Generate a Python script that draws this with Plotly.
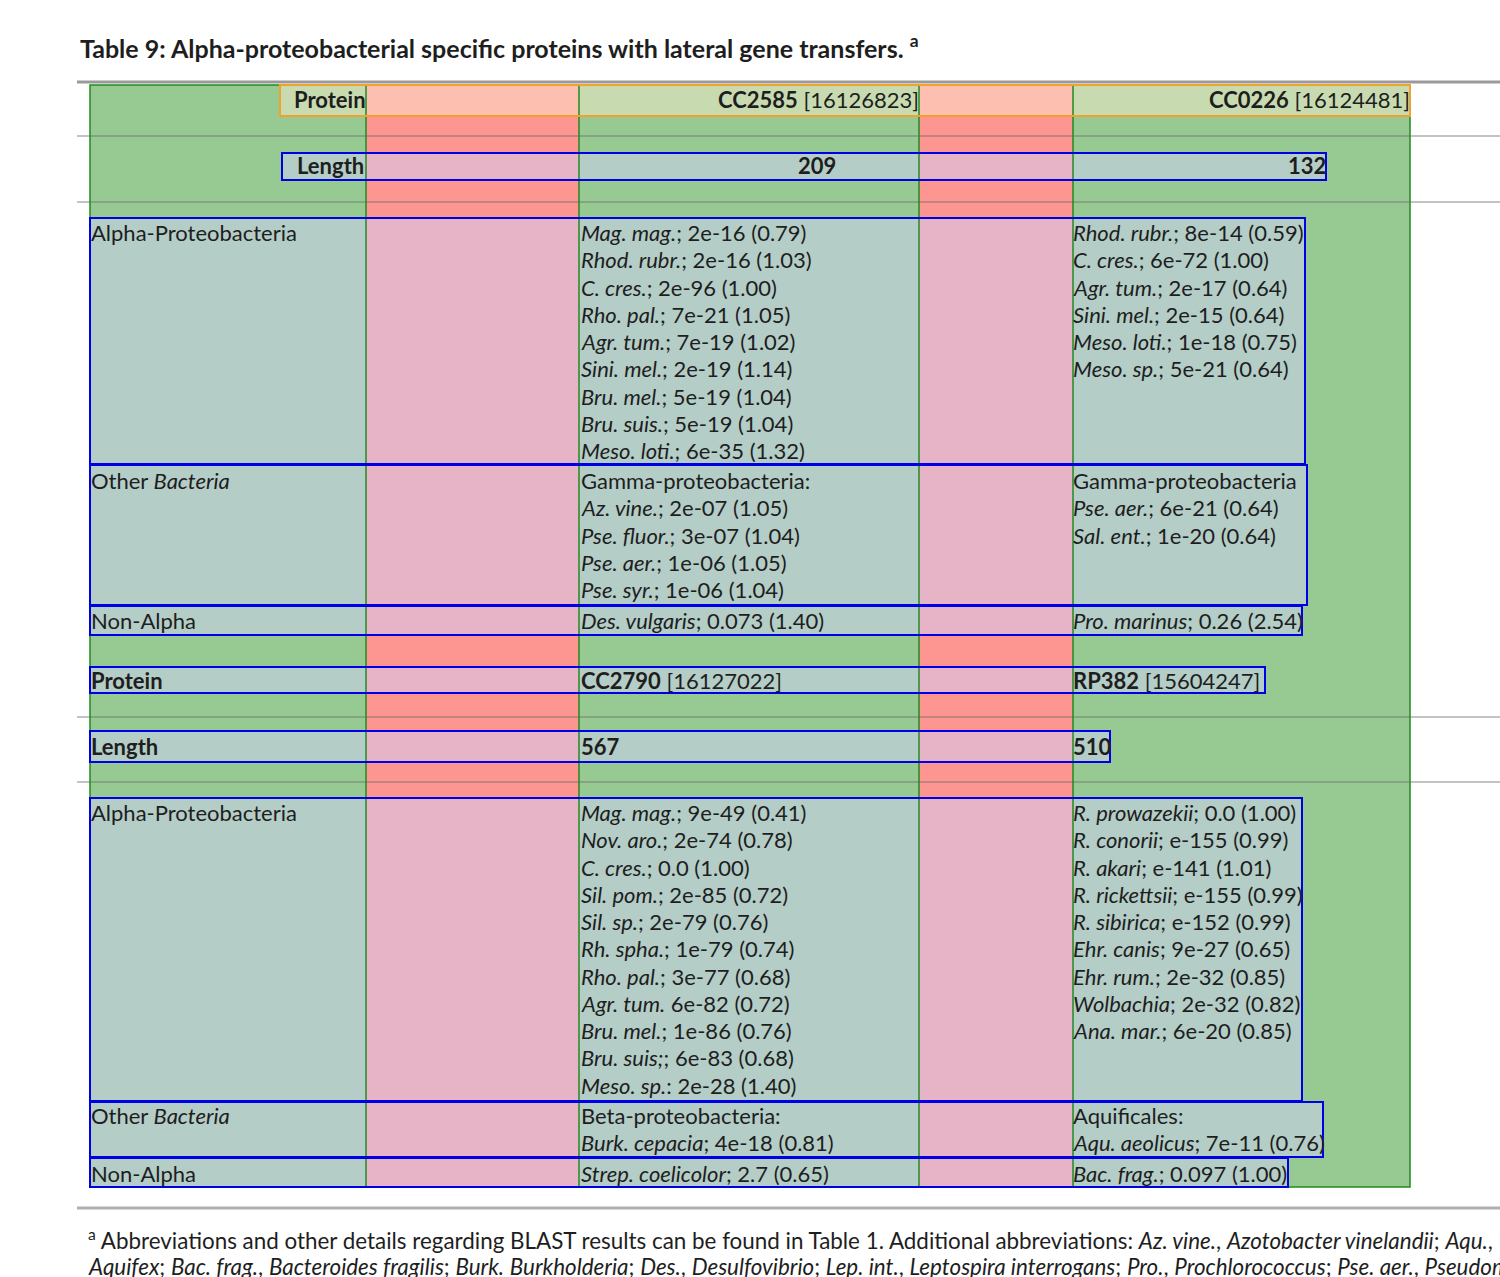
import plotly.graph_objects as go

# ---- table content ----
title = "Table 9: Alpha-proteobacterial specific proteins with lateral gene transfers. <sup>a</sup>"
proteins = ["CC2585", "CC0226", "CC2790", "RP382"]
gi_ids = ["16126823", "16124481", "16127022", "15604247"]
lengths = ["209", "132", "567", "510"]
row_labels = ["Alpha-Proteobacteria", "Other <i>Bacteria</i>", "Non-Alpha"]

alpha_hits = [
    ["<i>Mag. mag.</i>; 2e-16 (0.79)", "<i>Rhod. rubr.</i>; 2e-16 (1.03)", "<i>C. cres.</i>; 2e-96 (1.00)",
     "<i>Rho. pal.</i>; 7e-21 (1.05)", "<i>Agr. tum.</i>; 7e-19 (1.02)", "<i>Sini. mel.</i>; 2e-19 (1.14)",
     "<i>Bru. mel.</i>; 5e-19 (1.04)", "<i>Bru. suis.</i>; 5e-19 (1.04)", "<i>Meso. loti.</i>; 6e-35 (1.32)"],
    ["<i>Rhod. rubr.</i>; 8e-14 (0.59)", "<i>C. cres.</i>; 6e-72 (1.00)", "<i>Agr. tum.</i>; 2e-17 (0.64)",
     "<i>Sini. mel.</i>; 2e-15 (0.64)", "<i>Meso. loti.</i>; 1e-18 (0.75)", "<i>Meso. sp.</i>; 5e-21 (0.64)"],
    ["<i>Mag. mag.</i>; 9e-49 (0.41)", "<i>Nov. aro.</i>; 2e-74 (0.78)", "<i>C. cres.</i>; 0.0 (1.00)",
     "<i>Sil. pom.</i>; 2e-85 (0.72)", "<i>Sil. sp.</i>; 2e-79 (0.76)", "<i>Rh. spha.</i>; 1e-79 (0.74)",
     "<i>Rho. pal.</i>; 3e-77 (0.68)", "<i>Agr. tum.</i> 6e-82 (0.72)", "<i>Bru. mel.</i>; 1e-86 (0.76)",
     "<i>Bru. suis;</i>; 6e-83 (0.68)", "<i>Meso. sp.</i>: 2e-28 (1.40)"],
    ["<i>R. prowazekii</i>; 0.0 (1.00)", "<i>R. conorii</i>; e-155 (0.99)", "<i>R. akari</i>; e-141 (1.01)",
     "<i>R. rickettsii</i>; e-155 (0.99)", "<i>R. sibirica</i>; e-152 (0.99)", "<i>Ehr. canis</i>; 9e-27 (0.65)",
     "<i>Ehr. rum.</i>; 2e-32 (0.85)", "<i>Wolbachia</i>; 2e-32 (0.82)", "<i>Ana. mar.</i>; 6e-20 (0.85)"],
]
other_hits = [
    ["Gamma-proteobacteria:", "<i>Az. vine.</i>; 2e-07 (1.05)", "<i>Pse. fluor.</i>; 3e-07 (1.04)",
     "<i>Pse. aer.</i>; 1e-06 (1.05)", "<i>Pse. syr.</i>; 1e-06 (1.04)"],
    ["Gamma-proteobacteria", "<i>Pse. aer.</i>; 6e-21 (0.64)", "<i>Sal. ent.</i>; 1e-20 (0.64)"],
    ["Beta-proteobacteria:", "<i>Burk. cepacia</i>; 4e-18 (0.81)"],
    ["Aquificales:", "<i>Aqu. aeolicus</i>; 7e-11 (0.76)"],
]
nonalpha_hits = [
    "<i>Des. vulgaris</i>; 0.073 (1.40)", "<i>Pro. marinus</i>; 0.26 (2.54)",
    "<i>Strep. coelicolor</i>; 2.7 (0.65)", "<i>Bac. frag.</i>; 0.097 (1.00)",
]
footnote = [
    "<sup>a</sup> Abbreviations and other details regarding BLAST results can be found in Table 1. "
    "Additional abbreviations: <i>Az. vine.</i>, <i>Azotobacter vinelandii</i>; <i>Aqu.</i>,",
    "<i>Aquifex</i>; <i>Bac. frag.</i>, <i>Bacteroides fragilis</i>; <i>Burk.</i> <i>Burkholderia</i>; "
    "<i>Des.</i>, <i>Desulfovibrio</i>; <i>Lep. int.</i>, <i>Leptospira interrogans</i>; <i>Pro.</i>, "
    "<i>Prochlorococcus</i>; <i>Pse. aer.</i>, <i>Pseudomonas aeruginosa</i>;",
]

# ---- page geometry (pixels) ----
W, H = 1500, 1277
LEFT, RIGHT, TOP, BOTTOM = 90, 1410, 85, 1187
col_lines = [366, 579, 919, 1073]
red_cols = [(366, 579), (919, 1073)]
text_x = [89, 579, 1071]
DY = -1.5
LINE = 27.25
FONT = "Lato, 'Open Sans', sans-serif"
SIZE = 22
INK = "#1e1e1e"
GREEN = "#97c992"
RED = "#fd9590"
LINE_GREEN = "#218a21"
BLUE = "#0000e6"
BLUE_FILL = "rgba(210,210,252,0.5)"
ORANGE_FILL = "rgba(253,238,208,0.48)"

# blocks: (first line y, box top, box bottom, box right)
blocks = [
    dict(alpha=(234, 218, 464, 1305), other=(482, 465, 605, 1307), non=(622, 606, 635, 1302),
         prot=(682, 667, 693, 1265), length=(748, 731, 762, 1110)),
    dict(alpha=(814, 798, 1101, 1302), other=(1117, 1102, 1157, 1323), non=(1175, 1158, 1187, 1288)),
]

fig = go.Figure()
fills = []
outlines = []
annos = []


def rect(x0, y0, x1, y1, fill, line_color=None, width=0):
    fills.append(dict(type="rect", xref="x", yref="y", x0=x0, x1=x1, y0=y0, y1=y1,
                      fillcolor=fill, line=dict(width=0)))
    if line_color:
        outlines.append(dict(type="rect", xref="x", yref="y", x0=x0, x1=x1, y0=y0, y1=y1,
                             line=dict(color=line_color, width=width)))


def hline(y, x0, x1, color, width):
    fills.append(dict(type="line", xref="x", yref="y", x0=x0, x1=x1, y0=y, y1=y,
                      line=dict(color=color, width=width)))


def text(x, y, s, anchor="left", size=SIZE, bold=False):
    if bold:
        s = "<b>" + s + "</b>"
    if anchor == "right":
        x += 2
    annos.append(dict(x=x, y=y + DY, xref="x", yref="y", text=s, showarrow=False,
                      xanchor=anchor, yanchor="middle", align=anchor,
                      font=dict(family=FONT, size=size, color=INK)))


# backgrounds
rect(LEFT, TOP, RIGHT, BOTTOM, GREEN)
for a, b in red_cols:
    rect(a, TOP, b, BOTTOM, RED)

# horizontal rules of the page
hline(82, 77, W, "#9a9a9a", 3)
for y in [136, 202, 717, 782]:
    hline(y, 77, W, "rgba(110,110,110,0.55)", 1.5)
hline(1208, 77, W, "#b0b0b0", 3)

# header row (orange box) and first length row
rect(280, TOP, RIGHT, 116, ORANGE_FILL, "#f2a22a", 2)
rect(282, 153, 1326, 180, BLUE_FILL, BLUE, 2)
text(366, 101, "Protein", "right", bold=True)
text(919, 101, "<b>%s</b> [%s]" % (proteins[0], gi_ids[0]), "right")
text(1410, 101, "<b>%s</b> [%s]" % (proteins[1], gi_ids[1]), "right")
text(364, 167, "Length", "right", bold=True)
text(836, 167, lengths[0], "right", bold=True)
text(1326, 167, lengths[1], "right", bold=True)

for bi, blk in enumerate(blocks):
    ia, ib = 2 * bi, 2 * bi + 1
    if "prot" in blk:
        ty, y0, y1, xr = blk["prot"]
        rect(LEFT, y0, xr, y1, BLUE_FILL, BLUE, 2)
        text(text_x[0], ty, "Protein", bold=True)
        text(text_x[1], ty, "<b>%s</b> [%s]" % (proteins[ia + 2], gi_ids[ia + 2]))
        text(text_x[2], ty, "<b>%s</b> [%s]" % (proteins[ib + 2], gi_ids[ib + 2]))
        ty, y0, y1, xr = blk["length"]
        rect(LEFT, y0, xr, y1, BLUE_FILL, BLUE, 2)
        text(text_x[0], ty, "Length", bold=True)
        text(text_x[1], ty, lengths[ia + 2], bold=True)
        text(text_x[2], ty, lengths[ib + 2], bold=True)
    for key, label, cells in [("alpha", row_labels[0], alpha_hits), ("other", row_labels[1], other_hits)]:
        ty, y0, y1, xr = blk[key]
        rect(LEFT, y0, xr, y1, BLUE_FILL, BLUE, 2)
        text(text_x[0], ty, label)
        for col, idx in [(1, ia), (2, ib)]:
            for k, line in enumerate(cells[idx]):
                text(text_x[col], ty + k * LINE, line)
    ty, y0, y1, xr = blk["non"]
    rect(LEFT, y0, xr, y1, BLUE_FILL, BLUE, 2)
    text(text_x[0], ty, row_labels[2])
    text(text_x[1], ty, nonalpha_hits[ia])
    text(text_x[2], ty, nonalpha_hits[ib])

# green cell lines drawn over the fills, under the box outlines
green_lines = [dict(type="rect", xref="x", yref="y", x0=LEFT, x1=RIGHT, y0=TOP, y1=BOTTOM,
                    line=dict(color=LINE_GREEN, width=1.5))]
for x in col_lines:
    green_lines.append(dict(type="line", xref="x", yref="y", x0=x, x1=x, y0=TOP, y1=BOTTOM,
                            line=dict(color=LINE_GREEN, width=1.5)))

# title and footnote
text(78, 48, title, bold=True, size=25)
text(86, 1241, footnote[0], size=22.4)
text(86, 1268, footnote[1], size=22.4)

fig.update_layout(
    width=W, height=H, margin=dict(l=0, r=0, t=0, b=0),
    paper_bgcolor="white", plot_bgcolor="white",
    xaxis=dict(range=[0, W], visible=False, fixedrange=True),
    yaxis=dict(range=[H, 0], visible=False, fixedrange=True),
    shapes=fills + green_lines + outlines, annotations=annos, showlegend=False,
)
fig.write_html("out.html", config={"displayModeBar": False},
               post_script="document.body.style.margin='0';document.body.style.overflow='hidden';")
